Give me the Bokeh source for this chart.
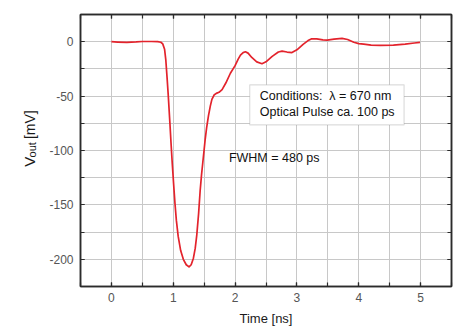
import math
from bokeh.plotting import figure
from bokeh.layouts import row
from bokeh.models import (Range1d, SingleIntervalTicker, LinearAxis, Label,
                          BoxAnnotation, ColumnDataSource)
from bokeh.embed import file_html
from bokeh.resources import INLINE

# ---- data (time in ns, voltage in mV) ----
time_ns = [0.0, 0.1, 0.25, 0.4, 0.5, 0.65, 0.75, 0.80, 0.83, 0.86, 0.88, 0.90,
           0.92, 0.946, 0.965, 0.984, 1.005, 1.027, 1.05, 1.08, 1.12, 1.163,
           1.21, 1.255, 1.29, 1.326, 1.355, 1.38, 1.41, 1.435, 1.458, 1.478,
           1.50, 1.516, 1.54, 1.57, 1.60, 1.625, 1.66, 1.696, 1.74, 1.79,
           1.85, 1.924, 2.0, 2.05, 2.087, 2.13, 2.167, 2.21, 2.27, 2.35,
           2.435, 2.5, 2.6, 2.7, 2.76, 2.84, 2.92, 3.0, 3.1, 3.18, 3.24,
           3.32, 3.42, 3.49, 3.6, 3.73, 3.82, 3.92, 4.0, 4.08, 4.2, 4.35,
           4.56, 4.75, 4.9, 4.99]
v_out_mv = [0, -0.3, -0.6, -0.2, 0.2, 0.2, 0, -0.5, -2, -7, -17, -33,
            -50, -75, -94, -112, -130, -148, -164, -179, -192, -200,
            -205, -207, -205, -199, -190, -178, -158, -137, -122, -111,
            -99, -90, -79, -68, -59, -53, -49, -47.5, -46.5, -44,
            -38, -29, -22, -16, -12.3, -10, -9.3, -10.5, -14.5, -18.5,
            -20.2, -18.5, -13.5, -9.5, -8.7, -9.5, -10, -7.5, -2.5, 1, 2.7,
            2.6, 1.6, 1.5, 2.3, 3, 2, -0.5, -1.8, -2.3, -3.2, -3.4,
            -3.1, -2.3, -1.2, -0.6]

x_ticks = [0, 1, 2, 3, 4, 5]
y_ticks = [0, -50, -100, -150, -200]
x_label = "Time [ns]"
y_label_parts = ["V", "out", "[mV]"]
cond_line1 = "Conditions: \u00a0\u03bb = 670 nm"
cond_line2 = "Optical Pulse ca. 100 ps"
fwhm_text = "FWHM = 480 ps"

FONT = "Liberation Sans"
GRID = "#c8c8c8"
FRAME = "#2b2b2b"
TICKC = "#555555"
W, H = 474, 334
STRIP = 40  # width of the strip that carries the rotated y label

# ---------- strip with the y-axis title (V_out [mV]) ----------
lab = figure(width=STRIP, height=H, output_backend="svg", toolbar_location=None,
             x_range=Range1d(0, STRIP), y_range=Range1d(0, H),
             x_axis_type=None, y_axis_type=None, min_border=0,
             outline_line_color=None, background_fill_color="white",
             border_fill_color="white")
lab.grid.visible = False
for txt, px, py, size in ((y_label_parts[0], 29, 187, "15px"),
                          (y_label_parts[1], 31.5, 175.5, "11px"),
                          (y_label_parts[2], 29, 153, "14px")):
    lab.add_layout(Label(x=px, y=H - py, text=txt, angle=math.pi / 2,
                         text_font=FONT, text_font_size=size,
                         text_align="left", text_baseline="alphabetic",
                         text_color="#1a1a1a"))

# ---------- main plot ----------
p = figure(width=W - STRIP, height=H, output_backend="svg", toolbar_location=None,
           x_range=Range1d(-0.5, 5.5), y_range=Range1d(-225, 25),
           min_border_left=80 - STRIP, min_border_right=23, min_border_top=14,
           min_border_bottom=48, background_fill_color="white",
           border_fill_color="white")

p.outline_line_color = FRAME
p.outline_line_width = 1.5

def style_axis(ax, ticker, show_labels):
    ax.ticker = ticker
    ax.axis_line_color = FRAME
    ax.axis_line_width = 1.5
    ax.major_tick_in = 4
    ax.major_tick_out = 0
    ax.minor_tick_in = 4
    ax.minor_tick_out = 0
    ax.major_tick_line_color = FRAME
    ax.minor_tick_line_color = FRAME
    ax.major_tick_line_width = 1.2
    ax.minor_tick_line_width = 1.2
    ax.major_label_text_font = FONT
    ax.major_label_text_font_size = "12px"
    ax.major_label_text_color = TICKC
    if not show_labels:
        ax.major_label_text_color = None
        ax.major_label_text_font_size = "0px"

style_axis(p.xaxis[0], SingleIntervalTicker(interval=1, num_minor_ticks=2), True)
style_axis(p.yaxis[0], SingleIntervalTicker(interval=50, num_minor_ticks=2), True)
p.xaxis[0].major_label_overrides = {t: str(t) for t in x_ticks}
p.yaxis[0].major_label_overrides = {t: str(t) for t in y_ticks}
p.xaxis[0].major_label_standoff = 6
p.yaxis[0].major_label_standoff = 7
p.xaxis[0].axis_label = x_label
p.xaxis[0].axis_label_text_font = FONT
p.xaxis[0].axis_label_text_font_size = "13px"
p.xaxis[0].axis_label_text_font_style = "normal"
p.xaxis[0].axis_label_text_color = "#1a1a1a"
p.xaxis[0].axis_label_standoff = 6

top_ax = LinearAxis()
style_axis(top_ax, SingleIntervalTicker(interval=1, num_minor_ticks=2), False)
p.add_layout(top_ax, "above")
right_ax = LinearAxis()
style_axis(right_ax, SingleIntervalTicker(interval=50, num_minor_ticks=2), False)
p.add_layout(right_ax, "right")

for g, t in ((p.xgrid[0], SingleIntervalTicker(interval=1, num_minor_ticks=2)),
             (p.ygrid[0], SingleIntervalTicker(interval=50, num_minor_ticks=2))):
    g.ticker = t
    g.grid_line_color = GRID
    g.grid_line_width = 1
    g.minor_grid_line_color = GRID
    g.minor_grid_line_width = 1

src = ColumnDataSource(dict(t=time_ns, v=v_out_mv))
p.line("t", "v", source=src, line_color="#e3232c", line_width=1.7,
       line_join="round")

# annotation box
p.add_layout(BoxAnnotation(left=2.237, right=4.733, top=-39.6, bottom=-76.5,
                           fill_color="white", fill_alpha=1.0,
                           line_color="#8c8c8c", line_width=1.2))
for txt, yy in ((cond_line1, -50.1), (cond_line2, -64.9)):
    p.add_layout(Label(x=2.40, y=yy, text=txt, text_font=FONT,
                       text_font_size="12.5px", text_align="left",
                       text_baseline="middle", text_color="#111111"))
p.add_layout(Label(x=1.90, y=-107.3, text=fwhm_text, text_font=FONT,
                   text_font_size="12.5px", text_align="left",
                   text_baseline="middle", text_color="#111111"))

layout = row(lab, p, spacing=0)
open("out.html", "w").write(file_html(layout, INLINE))
